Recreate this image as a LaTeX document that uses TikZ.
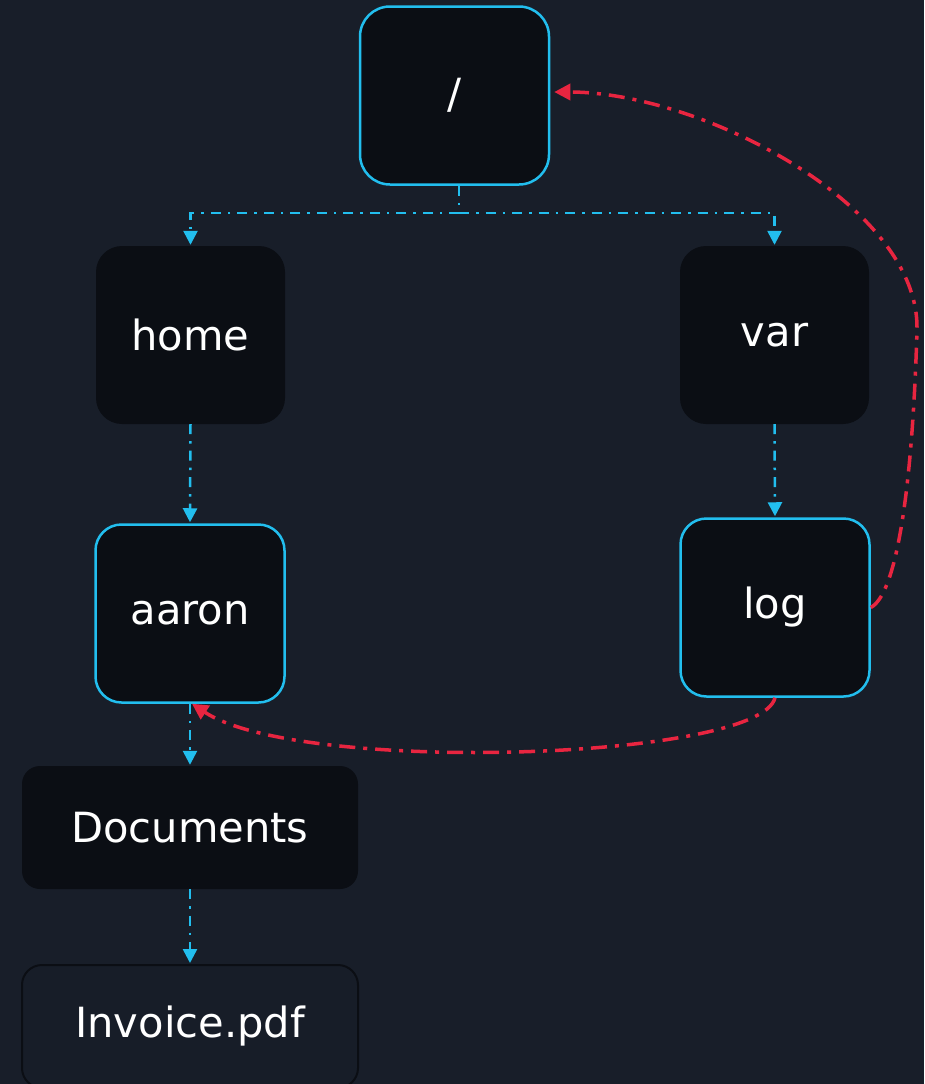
\documentclass[tikz,border=0pt]{standalone}
\usepackage{fontspec}
\setmainfont{DejaVu Sans}
\usetikzlibrary{arrows.meta}
\definecolor{bgc}{RGB}{24,30,41}
\definecolor{nodefill}{RGB}{11,14,20}
\definecolor{cyanc}{RGB}{34,190,238}
\definecolor{redc}{RGB}{232,37,64}
\definecolor{invfill}{RGB}{23,29,40}
\tikzset{
  box/.style={rounded corners=26pt, fill=nodefill, text=white, inner sep=0pt,
    minimum width=189pt, minimum height=178pt, font=\fontsize{41.6}{50}\selectfont},
  hl/.style={draw=cyanc, line width=2.5pt},
  wide/.style={rounded corners=18pt, fill=nodefill, text=white, inner sep=0pt,
    minimum width=336pt, minimum height=123pt, font=\fontsize{41.6}{50}\selectfont},
  bluelink/.style={draw=cyanc, line width=2.5pt, dash pattern=on 10pt off 7pt on 2.5pt off 7pt},
  bluearrow/.style={bluelink, -{Triangle[length=14pt,width=14pt]}, shorten >=1pt},
  redlink/.style={draw=redc, line width=3.5pt, dash pattern=on 16pt off 8pt on 4pt off 8pt,
    -{Triangle[length=16pt,width=16pt]}}
}
\begin{document}
\begin{tikzpicture}[x=1pt,y=-1pt]
\useasboundingbox[fill=bgc] (0,0) rectangle (924,1084);
\node[box,hl,rounded corners=30pt] (root) at (454.5,95.5) {/};
\node[box] (home) at (190.5,335) {home};
\node[box] (var) at (774.5,335) {var};
\node[box,hl] (aaron) at (190,613.5) {aaron};
\node[box,hl] (log) at (775,607.5) {log};
\node[wide] (docs) at (190,827.5) {Documents};
\node[wide,fill=invfill,draw=nodefill,line width=2pt,rounded corners=20pt] (inv) at (190,1026.5) {Invoice.pdf};
\coordinate (j) at (459,213);
\coordinate (rb) at (917,330);
\draw[bluelink] ([xshift=4.5pt]root.south) -- (j);
\draw[bluearrow] (j) -| (home.north);
\draw[bluearrow] (j) -| (var.north);
\draw[bluearrow] (home.south) -- (aaron.north);
\draw[bluearrow] (var.south) -- (log.north);
\draw[bluearrow] (aaron.south) -- (docs.north);
\draw[bluearrow] (docs.south) -- (inv.north);
\draw[redlink] (log.east) .. controls (895,595) and (912,500) .. (rb)
  .. controls (920,205) and (700,92) .. ([xshift=4pt,yshift=3.5pt]root.east);
\draw[redlink] (log.south) .. controls (760,760) and (300,775) .. ([xshift=2pt]aaron.south);
\end{tikzpicture}
\end{document}
